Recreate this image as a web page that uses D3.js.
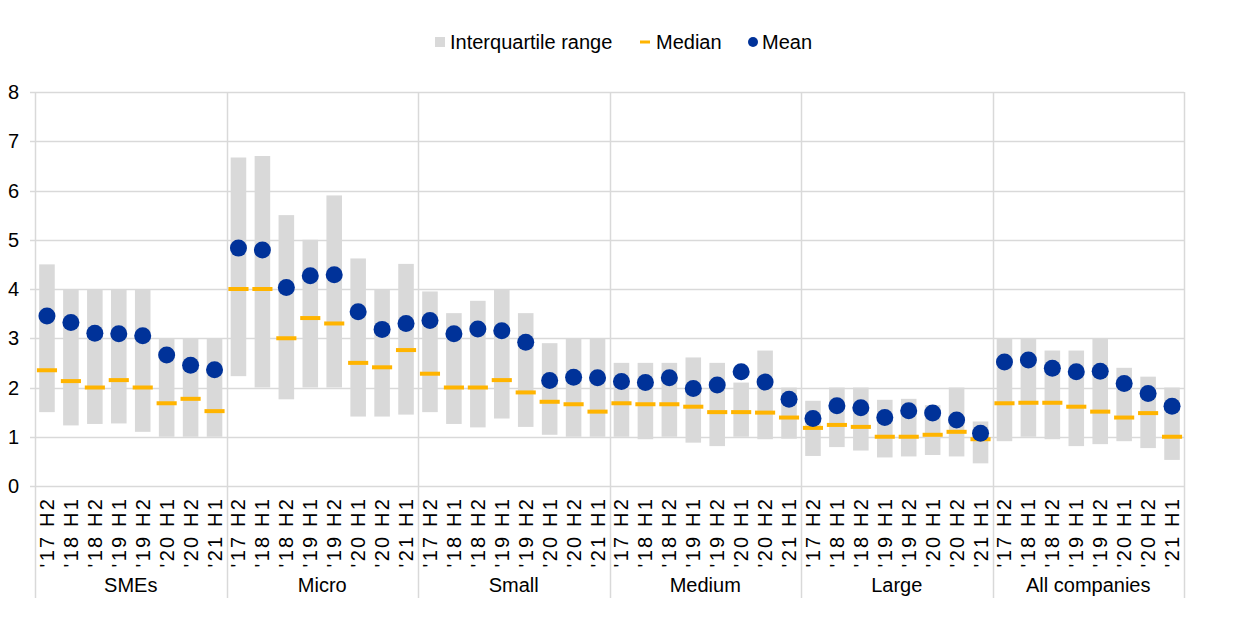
<!DOCTYPE html>
<html>
<head>
<meta charset="utf-8">
<script src="https://cdn.jsdelivr.net/npm/d3@7"></script>
<style>
  html, body { margin: 0; padding: 0; background: #fff; }
  svg { display: block; font-family: "Liberation Sans", Arial, sans-serif; }
</style>
</head>
<body>
<svg id="chart" width="1240" height="627"></svg>
<script>
const groups = ["SMEs", "Micro", "Small", "Medium", "Large", "All companies"];
const periods = ["'17 H2", "'18 H1", "'18 H2", "'19 H1", "'19 H2", "'20 H1", "'20 H2", "'21 H1"];
const yTicks = [0, 1, 2, 3, 4, 5, 6, 7, 8];

// Interquartile range: lower (Q1) and upper (Q3) bounds, per group
const q1 = [
  [1.50, 1.23, 1.26, 1.27, 1.10, 1.00, 1.00, 1.00],
  [2.23, 2.00, 1.76, 2.00, 2.00, 1.41, 1.41, 1.45],
  [1.50, 1.26, 1.19, 1.37, 1.20, 1.04, 1.00, 1.00],
  [1.00, 0.95, 1.00, 0.88, 0.81, 1.00, 0.95, 0.96],
  [0.61, 0.79, 0.72, 0.58, 0.60, 0.63, 0.60, 0.46],
  [0.91, 1.00, 0.95, 0.81, 0.85, 0.91, 0.77, 0.53]
];
const q3 = [
  [4.50, 4.00, 4.00, 4.00, 4.00, 3.00, 3.00, 3.00],
  [6.67, 6.70, 5.50, 5.00, 5.90, 4.62, 4.00, 4.51],
  [3.95, 3.51, 3.76, 4.00, 3.51, 2.90, 3.00, 3.00],
  [2.50, 2.50, 2.50, 2.61, 2.50, 2.10, 2.75, 2.00],
  [1.73, 2.00, 2.00, 1.75, 1.77, 1.64, 2.00, 1.31],
  [3.00, 3.00, 2.75, 2.75, 3.00, 2.40, 2.22, 2.00]
];
const median = [
  [2.35, 2.13, 2.00, 2.15, 2.00, 1.68, 1.77, 1.52],
  [4.00, 4.00, 3.00, 3.41, 3.30, 2.50, 2.41, 2.76],
  [2.28, 2.00, 2.00, 2.15, 1.90, 1.71, 1.66, 1.51],
  [1.68, 1.66, 1.66, 1.61, 1.50, 1.50, 1.49, 1.39],
  [1.18, 1.24, 1.20, 1.00, 1.00, 1.04, 1.10, 0.95],
  [1.68, 1.69, 1.69, 1.61, 1.51, 1.39, 1.48, 1.00]
];
const mean = [
  [3.45, 3.32, 3.10, 3.09, 3.05, 2.66, 2.45, 2.36],
  [4.83, 4.79, 4.03, 4.27, 4.29, 3.54, 3.18, 3.30],
  [3.36, 3.09, 3.19, 3.15, 2.92, 2.14, 2.21, 2.20],
  [2.12, 2.10, 2.20, 1.98, 2.05, 2.32, 2.11, 1.76],
  [1.37, 1.63, 1.59, 1.39, 1.53, 1.48, 1.34, 1.07],
  [2.52, 2.56, 2.39, 2.32, 2.33, 2.08, 1.88, 1.62]
];

(function () {
const colors = { iqr: "#d9d9d9", median: "#ffb400", mean: "#003299", grid: "#d9d9d9", text: "#000" };

const svg = d3.select("#chart");
const mLeft = 35, mRight = 1184, mTop = 92, mBottom = 486, axisBottom = 598;

const rows = [];
groups.forEach((g, gi) => periods.forEach((p, pi) => rows.push({
  key: g + "|" + p, group: g, period: p,
  q1: q1[gi][pi], q3: q3[gi][pi], median: median[gi][pi], mean: mean[gi][pi]
})));

const x = d3.scaleBand().domain(rows.map(d => d.key)).range([mLeft, mRight]).padding(0);
const y = d3.scaleLinear().domain([0, 8]).range([mBottom, mTop]);
const bw = x.bandwidth();

svg.append("g").selectAll("line").data(yTicks).join("line")
  .attr("x1", mLeft - 5).attr("x2", mRight)
  .attr("y1", d => Math.round(y(d)) + 0.5).attr("y2", d => Math.round(y(d)) + 0.5)
  .attr("stroke", colors.grid).attr("stroke-width", 1.5);

svg.append("g").selectAll("text").data(yTicks).join("text")
  .attr("x", 19).attr("y", d => y(d)).attr("dy", "0.35em")
  .attr("text-anchor", "end").attr("font-size", 20).attr("fill", colors.text)
  .text(d => d);

const sepX = groups.map(g => x(g + "|" + periods[0])).concat([mRight]);
svg.append("g").selectAll("line").data(sepX).join("line")
  .attr("x1", d => Math.round(d) + 0.5).attr("x2", d => Math.round(d) + 0.5)
  .attr("y1", mTop).attr("y2", axisBottom)
  .attr("stroke", colors.grid).attr("stroke-width", 1.5);

const barW = bw * 0.65;
svg.append("g").selectAll("rect").data(rows).join("rect")
  .attr("x", d => x(d.key) + (bw - barW) / 2)
  .attr("width", barW)
  .attr("y", d => y(d.q3))
  .attr("height", d => y(d.q1) - y(d.q3))
  .attr("fill", colors.iqr);

const medW = bw * 0.84;
svg.append("g").selectAll("rect").data(rows).join("rect")
  .attr("x", d => x(d.key) + (bw - medW) / 2)
  .attr("width", medW)
  .attr("y", d => y(d.median) - 2)
  .attr("height", 4)
  .attr("fill", colors.median);

svg.append("g").selectAll("circle").data(rows).join("circle")
  .attr("cx", d => x(d.key) + bw / 2)
  .attr("cy", d => y(d.mean))
  .attr("r", 8.5)
  .attr("fill", colors.mean);

svg.append("g").selectAll("text").data(rows).join("text")
  .attr("transform", d => `translate(${x(d.key) + bw / 2 + 7},497) rotate(-90)`)
  .attr("text-anchor", "end")
  .attr("font-size", 20).attr("letter-spacing", 2.2).attr("fill", colors.text)
  .text(d => d.period);

svg.append("g").selectAll("text").data(groups).join("text")
  .attr("x", (g, i) => (sepX[i] + sepX[i + 1]) / 2)
  .attr("y", 585).attr("dy", "0.35em")
  .attr("text-anchor", "middle").attr("font-size", 20).attr("fill", colors.text)
  .text(g => g);

const lg = svg.append("g").attr("font-size", 20).attr("fill", colors.text);
lg.append("rect").attr("x", 435).attr("y", 37).attr("width", 10).attr("height", 10).attr("fill", colors.iqr);
lg.append("text").attr("x", 450).attr("y", 42).attr("dy", "0.35em").text("Interquartile range");
lg.append("rect").attr("x", 640).attr("y", 40.5).attr("width", 10).attr("height", 3).attr("fill", colors.median);
lg.append("text").attr("x", 656).attr("y", 42).attr("dy", "0.35em").text("Median");
lg.append("circle").attr("cx", 753).attr("cy", 42).attr("r", 5).attr("fill", colors.mean);
lg.append("text").attr("x", 762).attr("y", 42).attr("dy", "0.35em").text("Mean");
})();
</script>
</body>
</html>
